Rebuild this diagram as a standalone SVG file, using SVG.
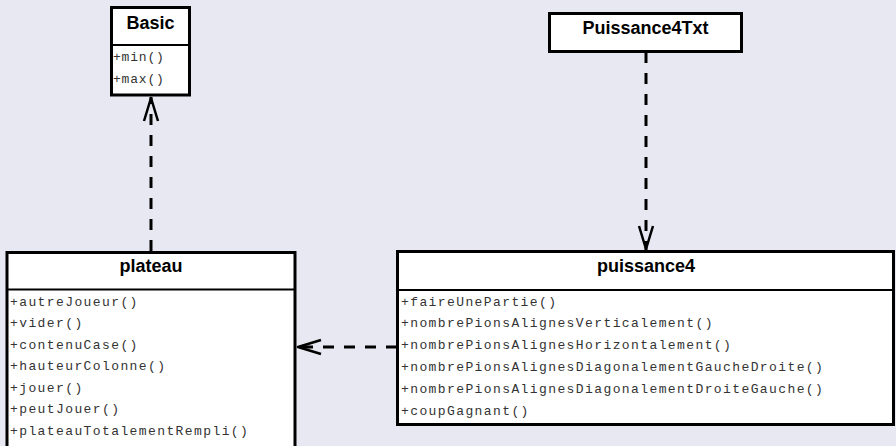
<svg xmlns="http://www.w3.org/2000/svg" width="896" height="446" viewBox="0 0 896 446">
  <style>
    .box { fill: #ffffff; stroke: #000000; stroke-width: 3; }
    .div { stroke: #000000; stroke-width: 2; }
    .title { font-family: "Liberation Sans", Arial, sans-serif; font-weight: bold; font-size: 18px; text-anchor: middle; fill: #000000; }
    .op { font-family: "Liberation Mono", "Courier New", monospace; font-size: 13px; letter-spacing: 1.4px; fill: #333333; }
    .dep { fill: none; stroke: #000000; stroke-width: 3; stroke-dasharray: 11 10; }
  </style>
  <defs>
    <marker id="open" markerUnits="userSpaceOnUse" viewBox="-28 -10 30 20" refX="0" refY="0" markerWidth="30" markerHeight="20" orient="auto">
      <path d="M-24,-7 L-1,0 L-24,7" fill="none" stroke="#000000" stroke-width="2.5" stroke-linejoin="round"/>
    </marker>
  </defs>

  <rect width="896" height="446" fill="#e8e8f2"/>

  <!-- dependency connectors -->
  <g id="connectors">
    <line class="dep" x1="151" y1="251" x2="151" y2="97" marker-end="url(#open)"/>
    <line class="dep" x1="646" y1="52" x2="646" y2="250" marker-end="url(#open)"/>
    <line class="dep" x1="397" y1="347" x2="297" y2="347" marker-end="url(#open)"/>
  </g>

  <g id="basic">
    <rect class="box" x="111.5" y="7.5" width="78" height="87.5"/>
    <line class="div" x1="111.5" y1="45" x2="189.5" y2="45"/>
    <text class="title" x="150.5" y="28.5">Basic</text>
    <text class="op" x="113" y="61" style="letter-spacing:0.8px">+min()</text>
    <text class="op" x="113" y="83" style="letter-spacing:0.8px">+max()</text>
  </g>

  <g id="puissance4txt">
    <rect class="box" x="549.5" y="13.5" width="192" height="38"/>
    <text class="title" x="645.5" y="33.5">Puissance4Txt</text>
  </g>

  <g id="plateau">
    <rect class="box" x="7" y="252.5" width="288" height="200"/>
    <line class="div" x1="7" y1="289.5" x2="295" y2="289.5"/>
    <text class="title" x="151" y="272">plateau</text>
    <text class="op" x="10" y="305.5">+autreJoueur()</text>
    <text class="op" x="10" y="327">+vider()</text>
    <text class="op" x="10" y="348.5">+contenuCase()</text>
    <text class="op" x="10" y="370">+hauteurColonne()</text>
    <text class="op" x="10" y="391.5">+jouer()</text>
    <text class="op" x="10" y="413">+peutJouer()</text>
    <text class="op" x="10" y="434.5">+plateauTotalementRempli()</text>
  </g>

  <g id="puissance4">
    <rect class="box" x="397.5" y="251.5" width="496" height="173"/>
    <line class="div" x1="397.5" y1="290" x2="893.5" y2="290"/>
    <text class="title" x="646" y="272">puissance4</text>
    <text class="op" x="401" y="305.5">+faireUnePartie()</text>
    <text class="op" x="401" y="327.3">+nombrePionsAlignesVerticalement()</text>
    <text class="op" x="401" y="349.1">+nombrePionsAlignesHorizontalement()</text>
    <text class="op" x="401" y="370.9">+nombrePionsAlignesDiagonalementGaucheDroite()</text>
    <text class="op" x="401" y="392.7">+nombrePionsAlignesDiagonalementDroiteGauche()</text>
    <text class="op" x="401" y="414.5">+coupGagnant()</text>
  </g>
</svg>
